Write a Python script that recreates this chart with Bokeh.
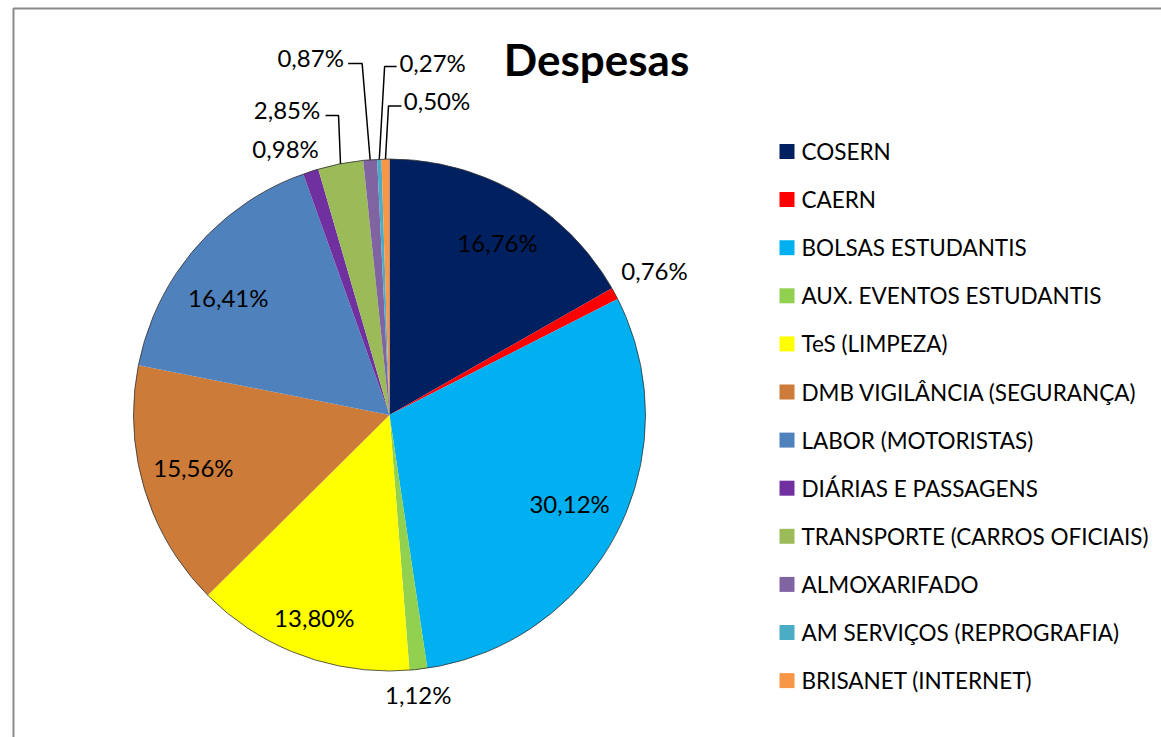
import math
from bokeh.plotting import figure
from bokeh.models import Range1d, ColumnDataSource
from bokeh.core.properties import value
from bokeh.embed import file_html
from bokeh.resources import INLINE

# ---------------- data ----------------
title = "Despesas"
categories = ["COSERN", "CAERN", "BOLSAS ESTUDANTIS", "AUX. EVENTOS ESTUDANTIS",
              "TeS (LIMPEZA)", "DMB VIGILÂNCIA (SEGURANÇA)", "LABOR (MOTORISTAS)",
              "DIÁRIAS E PASSAGENS", "TRANSPORTE (CARROS OFICIAIS)", "ALMOXARIFADO",
              "AM SERVIÇOS (REPROGRAFIA)", "BRISANET (INTERNET)"]
percent = [16.76, 0.76, 30.12, 1.12, 13.80, 15.56, 16.41, 0.98, 2.85, 0.87, 0.27, 0.50]

# ---------------- style / layout ----------------
colors = ["#002060", "#FF0000", "#00B0F0", "#92D050", "#FFFF00", "#CD7B38",
          "#4F81BD", "#7030A0", "#9BBB59", "#8064A2", "#4BACC6", "#F79646"]
W, H = 1161, 737
FONT = "Lato"
CX, CY_PX, R = 389, 414.5, 256
CY = H - CY_PX
# label placement: radial factor and angular offset (degrees) from slice mid-angle
label_rf = [0.795, 1.179, 0.784, 1.098, 0.844, 0.793, 0.779, 1.116, 1.259, 1.430, 1.389, 1.241]
label_dang = [1.9, -0.3, -1.1, 0.6, 0.0, 1.8, -4.7, -3.4, -7.5, -8.1, 9.25, 9.5]
# leader lines: index -> (dx_end, dx_elbow, dy) relative to label centre (px)
leaders = {8: (38.5, 51.5, 6), 9: (37.5, 51.5, 6), 10: (-36, -48, 4.5), 11: (-35.5, -48.5, 5)}

total = sum(percent)
starts, ends, mids = [], [], []
cum = 0.0
for v in percent:
    a0 = cum / total * 360.0
    cum += v
    a1 = cum / total * 360.0
    starts.append(math.radians(90 - a0))
    ends.append(math.radians(90 - a1))
    mids.append((a0 + a1) / 2)

p = figure(width=W, height=H, x_range=Range1d(0, W), y_range=Range1d(0, H),
           x_axis_type=None, y_axis_type=None, toolbar_location=None,
           output_backend="svg", min_border=0, outline_line_color=None,
           background_fill_color="white", border_fill_color="white")

# chart frame
p.line(x=[13, 13, W + 5], y=[-5, H - 8, H - 8], line_color="#8a8a8a", line_width=2)

# slices
src = ColumnDataSource(dict(start=starts, end=ends, color=colors))
p.wedge(x=CX, y=CY, radius=R, start_angle="start", end_angle="end",
        direction="clock", fill_color="color", line_color=None, source=src)
p.circle(x=CX, y=CY, radius=R, fill_color=None, line_color="#333333", line_width=0.8)

# data labels
lx, ly, lt = [], [], []
seg_x, seg_y = [], []
for i, v in enumerate(percent):
    a = math.radians(mids[i] + label_dang[i])
    r = label_rf[i] * R
    x = CX + r * math.sin(a)
    y = CY + r * math.cos(a)
    lx.append(x)
    ly.append(y)
    lt.append(f"{v:.2f}%".replace(".", ","))
    if i in leaders:
        dxe, dxb, dy = leaders[i]
        am = math.radians(mids[i])
        ex, ey = CX + R * math.sin(am), CY + R * math.cos(am)
        seg_x.append([x + dxe, x + dxb, ex])
        seg_y.append([y - dy, y - dy, ey])
p.multi_line(xs=seg_x, ys=seg_y, line_color="black", line_width=1.5)
p.text(x=lx, y=ly, text=lt, text_font=value(FONT), text_font_size="24px",
       text_align="center", text_baseline="middle", text_color="black")

# title
p.text(x=[596], y=[H - 58], text=[title], text_font=value(FONT), text_font_size="44px",
       text_font_style="bold", text_align="center", text_baseline="middle",
       text_color="black")

# legend
leg_y = [H - (151 + 48.1 * i) for i in range(len(categories))]
p.rect(x=[786.5] * len(categories), y=leg_y, width=15, height=15,
       fill_color=colors, line_color=None)
p.text(x=[801] * len(categories), y=leg_y, text=categories,
       text_font=value(FONT), text_font_size="22.5px", text_align="left",
       text_baseline="middle", text_color="black")

open("out.html", "w").write(file_html(p, INLINE))
